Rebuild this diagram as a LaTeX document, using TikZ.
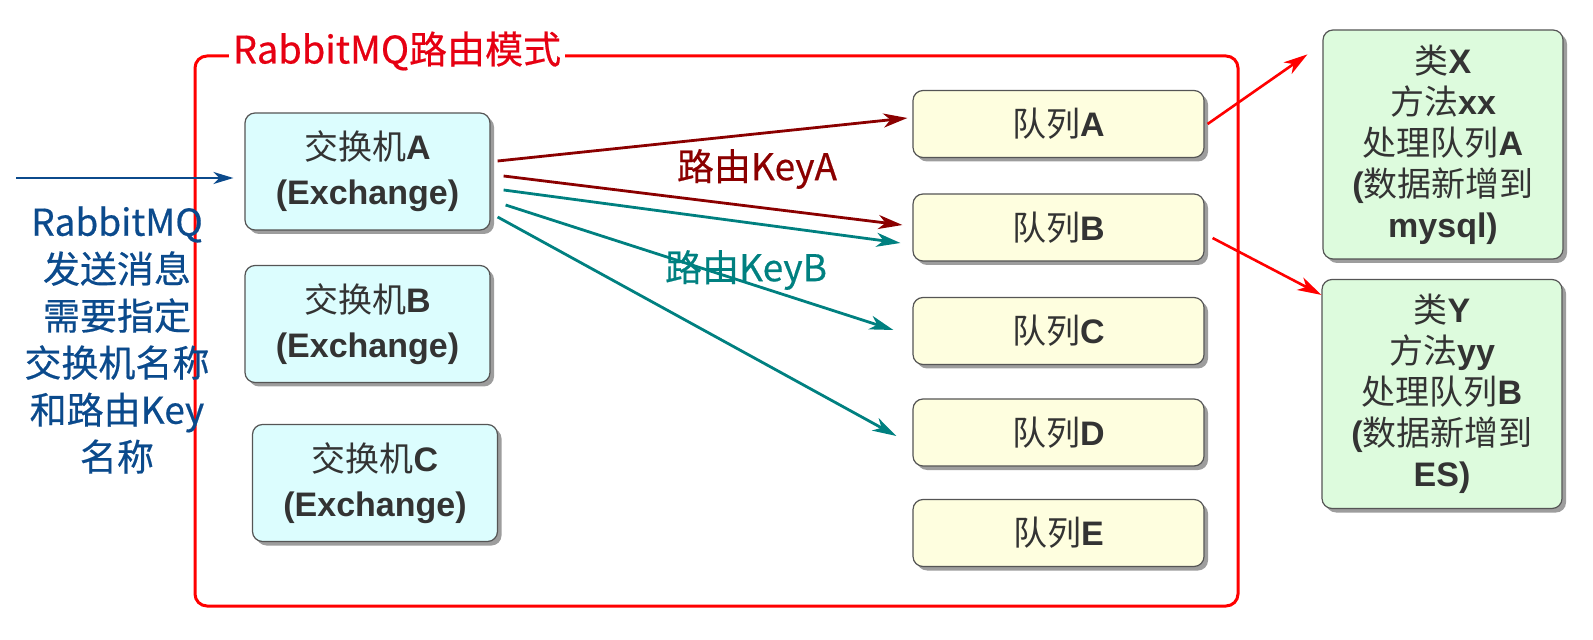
\documentclass[tikz,border=0pt]{standalone}
\usepackage{fontspec}
\setmainfont{Liberation Sans}
\newfontfamily\cjk{Noto Sans CJK SC}
\newfontfamily\cjklabel[FakeBold=0.5]{Noto Sans CJK SC}
\usetikzlibrary{arrows.meta,shadows,calc}

\definecolor{exfill}{HTML}{DCFDFE}
\definecolor{qfill}{HTML}{FEFEDF}
\definecolor{clsfill}{HTML}{DDFBDD}
\definecolor{boxline}{HTML}{555555}
\definecolor{txtgrey}{HTML}{333333}
\definecolor{msgblue}{HTML}{0B4A8C}
\definecolor{keyared}{HTML}{8B0000}
\definecolor{keybteal}{HTML}{008080}
\definecolor{framered}{HTML}{FF0000}
\definecolor{titlered}{HTML}{E60012}

\newcommand{\zh}[1]{{\cjk #1}}

\tikzset{
  box/.style={draw=boxline, line width=0.6pt, rounded corners=5pt, text=txtgrey,
    align=center, inner sep=2pt,
    drop shadow={shadow xshift=2pt, shadow yshift=-2pt, opacity=0.55, fill=black!70}},
  exbox/.style={box, fill=exfill, minimum width=122.5pt, minimum height=58.5pt,
    font=\fontsize{17}{22.5}\selectfont},
  qbox/.style={box, fill=qfill, minimum width=145.5pt, minimum height=33.5pt,
    font=\fontsize{17}{22}\selectfont},
  clsbox/.style={box, fill=clsfill, minimum width=120pt, minimum height=114.5pt,
    font=\fontsize{17}{20.5}\selectfont},
  keya/.style={draw=keyared, line width=1.4pt, -{Stealth[length=12pt,width=7pt,inset=3.5pt]}},
  keyb/.style={draw=keybteal, line width=1.4pt, -{Stealth[length=12pt,width=7pt,inset=3.5pt]}},
  toclass/.style={draw=framered, line width=1.3pt, -{Stealth[length=12pt,width=7pt,inset=3.5pt]}},
  inarrow/.style={draw=msgblue, line width=1.3pt, -{Stealth[length=10pt,width=6pt,inset=3pt]}},
  glowtext/.style={font=\cjklabel\fontsize{18.5}{23.5}\selectfont, align=center, inner sep=1pt}
}

\begin{document}
\begin{tikzpicture}[x=0.5pt, y=-0.5pt]
    \useasboundingbox (0,0) rectangle (1593,640);

    % Frame of the routing mode
    \draw[framered, line width=1.5pt, rounded corners=6pt] (195,56) rectangle (1238,606);
    \node[glowtext, text=titlered, fill=white, font=\cjklabel\fontsize{19}{23}\selectfont, inner xsep=2pt] (title) at (397,51) {RabbitMQ路由模式};

    % Exchanges
    \node[exbox] (exA) at (367.5,171.5) {\zh{交换机}\textbf{A}\\\textbf{(Exchange)}};
    \node[exbox] (exB) at (367.5,324) {\zh{交换机}\textbf{B}\\\textbf{(Exchange)}};
    \node[exbox] (exC) at (375,483) {\zh{交换机}\textbf{C}\\\textbf{(Exchange)}};

    % Queues
    \node[qbox] (qA) at (1058.5,124) {\zh{队列}\textbf{A}};
    \node[qbox] (qB) at (1058.5,227.5) {\zh{队列}\textbf{B}};
    \node[qbox] (qC) at (1058.5,331) {\zh{队列}\textbf{C}};
    \node[qbox] (qD) at (1058.5,432.5) {\zh{队列}\textbf{D}};
    \node[qbox] (qE) at (1058.5,533) {\zh{队列}\textbf{E}};

    % Consumer classes
    \node[clsbox] (clsX) at (1443,144.5) {\zh{类}\textbf{X}\\\zh{方法}\textbf{xx}\\\zh{处理队列}\textbf{A}\\\textbf{(}\zh{数据新增到}\\\textbf{mysql)}};
    \node[clsbox] (clsY) at (1442,394) {\zh{类}\textbf{Y}\\\zh{方法}\textbf{yy}\\\zh{处理队列}\textbf{B}\\\textbf{(}\zh{数据新增到}\\\textbf{ES)}};

    % Sender
    \coordinate (src) at (16,178);
    \draw[inarrow] (src) -- ($(exA.west)+(-11,6.5)$);
    \node[glowtext, text=msgblue] (msg) at (117,340) {RabbitMQ\\发送消息\\需要指定\\交换机名称\\和路由Key\\名称};

    % Routing keys
    \draw[keya] ($(exA.east)+(7,-10.5)$) -- ($(qA.west)+(-5,-6)$);
    \draw[keya] ($(exA.east)+(13,4.5)$) -- ($(qB.west)+(-10,-2.5)$);
    \draw[keyb] ($(exA.east)+(13,18.5)$) -- ($(qB.west)+(-12,15.5)$);
    \draw[keyb] ($(exA.east)+(15,33.5)$) -- ($(qC.west)+(-19,-1)$);
    \draw[keyb] ($(exA.east)+(7,45.5)$) -- ($(qD.west)+(-16,3.5)$);
    \node[glowtext, text=keyared] (keyA) at (757,169) {路由KeyA};
    \node[glowtext, text=keybteal] (keyB) at (746,270) {路由KeyB};

    % Queues to consumers
    \draw[toclass] ($(qA.east)+(3,0)$) -- ($(clsX.north west)+(-15,25)$);
    \draw[toclass] ($(qB.east)+(8,10.5)$) -- ($(clsY.north west)+(0,16)$);
\end{tikzpicture}
\end{document}
